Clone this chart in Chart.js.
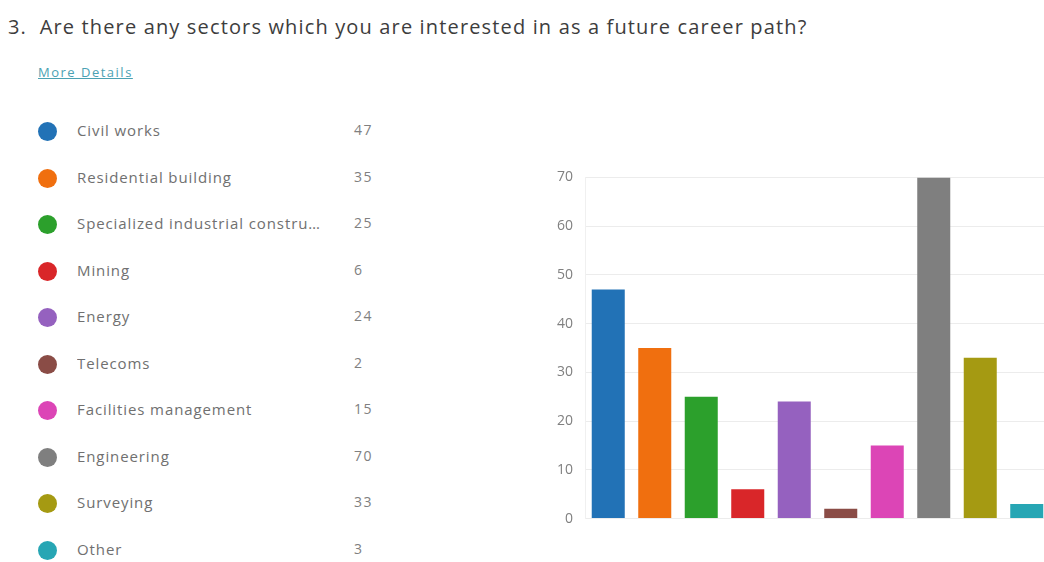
<!DOCTYPE html>
<html>
<head>
<meta charset="utf-8">
<script src="https://cdn.jsdelivr.net/npm/chart.js@4/dist/chart.umd.min.js"></script>
<style>
  html, body { margin: 0; padding: 0; background: #fff; overflow: hidden; width: 1044px; height: 562px; }
  body { position: relative; font-family: "Open Sans", "Noto Sans", sans-serif; }
  #title { position: absolute; left: 8px; top: 13px; font-size: 20px; color: #3d3d3d; white-space: nowrap; letter-spacing: 1.15px; }
  #more { position: absolute; left: 38px; top: 63px; font-size: 13px; color: #4ba2b3; text-decoration: underline; letter-spacing: 1.5px; }
  #legend { position: absolute; left: 38px; top: 108px; width: 350px; }
  .row { position: relative; height: 46.5px; }
  .dot { position: absolute; left: 0px; top: 14px; width: 19px; height: 19px; border-radius: 50%; }
  .lbl { position: absolute; left: 39px; top: 12px; width: 250px; font-size: 15px; color: #707070; white-space: nowrap; overflow: hidden; text-overflow: ellipsis; letter-spacing: 0.9px; }
  .val { position: absolute; left: 316px; top: 12px; font-size: 14px; color: #808080; letter-spacing: 1.5px; }
  #wrap { position: absolute; left: 520px; top: 157px; width: 530px; height: 382px; }
</style>
</head>
<body>
<div id="title">3.&nbsp; Are there any sectors which you are interested in as a future career path?</div>
<div id="more">More Details</div>
<div id="legend"></div>
<div id="wrap"><canvas id="c" width="530" height="382"></canvas></div>
<script>
// Survey answers and response counts
const categories = [
  "Civil works",
  "Residential building",
  "Specialized industrial construction",
  "Mining",
  "Energy",
  "Telecoms",
  "Facilities management",
  "Engineering",
  "Surveying",
  "Other"
];
const responses = [47, 35, 25, 6, 24, 2, 15, 70, 33, 3];
const colors = ["#2272b6", "#f06f0f", "#2ca02c", "#d92629", "#9561bf", "#8a4c46", "#dc45b6", "#7f7f7f", "#a59a12", "#27a6b4"];
const yTicks = [0, 10, 20, 30, 40, 50, 60, 70];

// Left-hand list of answers with their counts
const legend = document.getElementById("legend");
categories.forEach((name, i) => {
  const row = document.createElement("div");
  row.className = "row";
  row.innerHTML = '<div class="dot" style="background:' + colors[i] + '"></div>' +
    '<div class="lbl"></div><div class="val"></div>';
  row.querySelector(".lbl").textContent = name;
  row.querySelector(".val").textContent = responses[i];
  legend.appendChild(row);
});

new Chart(document.getElementById("c"), {
  type: "bar",
  data: {
    labels: categories,
    datasets: [{
      data: responses,
      backgroundColor: colors,
      borderWidth: 0,
      barPercentage: 0.71,
      categoryPercentage: 1.0
    }]
  },
  options: {
    responsive: false,
    animation: false,
    layout: { padding: { top: 3, bottom: 4, left: 0, right: 0 } },
    plugins: { legend: { display: false }, tooltip: { enabled: false } },
    scales: {
      x: {
        display: false,
        grid: { display: false }
      },
      y: {
        min: yTicks[0],
        max: yTicks[yTicks.length - 1],
        afterBuildTicks: (s) => { s.ticks = yTicks.map(v => ({ value: v })); },
        afterFit: (s) => { s.width = 65; },
        ticks: { color: "#808080", font: { family: "Open Sans", size: 14 }, padding: 12 },
        grid: { color: "#ececec", drawTicks: false },
        border: { display: true, color: "#f0f0f0" }
      }
    }
  }
});
</script>
</body>
</html>
